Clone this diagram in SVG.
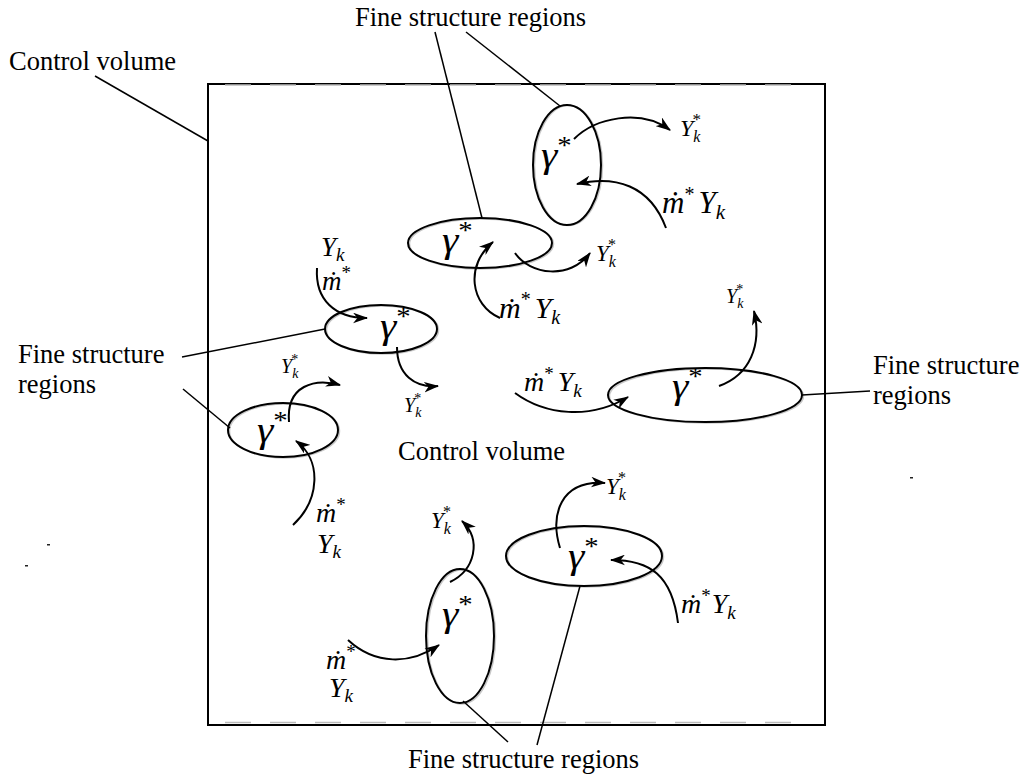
<svg xmlns="http://www.w3.org/2000/svg" width="1024" height="775" viewBox="0 0 1024 775">
  <defs>
    <marker id="ah" viewBox="0 0 14 10" refX="13" refY="5" markerWidth="15" markerHeight="11" markerUnits="userSpaceOnUse" orient="auto">
      <path d="M0,0 L14,5 L0,10 L4,5 z" fill="#000"/>
    </marker>
    <style>
      .lbl { font-family: "Liberation Serif", "Times New Roman", serif; font-size: 26.5px; fill: #000; }
      .m { font-family: "Liberation Serif", "DejaVu Serif", serif; font-style: italic; fill: #000; }
      .g { font-size: 36px; }
      .st { font-style: normal; }
      .box { fill: none; stroke: #000; stroke-width: 2; }
      .dash { fill: none; stroke: #bbb; stroke-width: 1.5; stroke-dasharray: 26 19; }
      .reg { fill: none; stroke: #000; stroke-width: 2; }
      .halo { fill: none; stroke: #c8c8c8; stroke-width: 1.5; }
      .lead { fill: none; stroke: #000; stroke-width: 1.5; }
      .flow { fill: none; stroke: #000; stroke-width: 2; marker-end: url(#ah); }
    </style>
  </defs>
  <rect width="1024" height="775" fill="#fff"/>

  <!-- control volume -->
  <g id="control-volume">
    <rect class="box" x="208" y="84" width="617" height="641"/>
    <line class="dash" x1="225" y1="85" x2="808" y2="85"/>
    <line class="dash" x1="225" y1="722.5" x2="808" y2="722.5"/>
    <text class="lbl" x="398" y="460">Control volume</text>
  </g>

  <!-- outer labels -->
  <g id="label-control-volume">
    <text class="lbl" x="9" y="70">Control volume</text>
  </g>
  <g id="label-fine-top">
    <text class="lbl" x="355" y="26">Fine structure regions</text>
  </g>
  <g id="label-fine-left">
    <text class="lbl" x="18" y="363">Fine structure</text>
    <text class="lbl" x="18" y="393">regions</text>
  </g>
  <g id="label-fine-right">
    <text class="lbl" x="873" y="374">Fine structure</text>
    <text class="lbl" x="873" y="404">regions</text>
  </g>
  <g id="label-fine-bottom">
    <text class="lbl" x="408" y="768">Fine structure regions</text>
  </g>

  <!-- fine structure regions (gamma labels slightly widened) -->
  <g id="region-1">
    <ellipse class="halo" cx="568.5" cy="165.5" rx="34" ry="60"/>
    <ellipse class="reg" cx="567" cy="165" rx="34" ry="60"/>
    <text class="m g" transform="translate(541,167) scale(1.15,1)">γ<tspan class="st" font-size="25" dy="-13">*</tspan></text>
    <text class="m" font-size="24" x="680" y="136">Y<tspan font-size="16" dy="6">k</tspan><tspan class="st" font-size="17" dx="-8" dy="-17">*</tspan></text>
    <text class="m" font-size="31" x="662" y="213">ṁ<tspan class="st" font-size="20" dy="-12">*</tspan><tspan dx="4" dy="12">Y</tspan><tspan font-size="21" dy="6">k</tspan></text>
  </g>
  <g id="region-2">
    <ellipse class="halo" cx="481.5" cy="244" rx="72" ry="25"/>
    <ellipse class="reg" cx="480" cy="243" rx="72" ry="25"/>
    <text class="m g" transform="translate(442,252) scale(1.15,1)">γ<tspan class="st" font-size="25" dy="-13">*</tspan></text>
    <text class="m" font-size="23" x="596" y="261">Y<tspan font-size="16" dy="6">k</tspan><tspan class="st" font-size="16" dx="-8" dy="-17">*</tspan></text>
    <text class="m" font-size="30" x="499" y="318">ṁ<tspan class="st" font-size="20" dy="-12">*</tspan><tspan dx="4" dy="12">Y</tspan><tspan font-size="20" dy="6">k</tspan></text>
  </g>
  <g id="region-3">
    <ellipse class="halo" cx="382.5" cy="330" rx="56" ry="24"/>
    <ellipse class="reg" cx="381" cy="329" rx="56" ry="24"/>
    <text class="m g" transform="translate(380,338) scale(1.15,1)">γ<tspan class="st" font-size="25" dy="-13">*</tspan></text>
    <text class="m" font-size="27" x="321" y="256">Y<tspan font-size="19" dy="5">k</tspan></text>
    <text class="m" font-size="27" x="322" y="290">ṁ<tspan class="st" font-size="19" dy="-11">*</tspan></text>
    <text class="m" font-size="20" x="404" y="412">Y<tspan font-size="14" dy="5">k</tspan><tspan class="st" font-size="14" dx="-7" dy="-14">*</tspan></text>
  </g>
  <g id="region-4">
    <ellipse class="halo" cx="284.5" cy="431" rx="55" ry="27"/>
    <ellipse class="reg" cx="283" cy="430" rx="55" ry="27"/>
    <text class="m g" transform="translate(257,442) scale(1.15,1)">γ<tspan class="st" font-size="25" dy="-13">*</tspan></text>
    <text class="m" font-size="20" x="281" y="373">Y<tspan font-size="14" dy="5">k</tspan><tspan class="st" font-size="14" dx="-7" dy="-14">*</tspan></text>
    <text class="m" font-size="28" x="316" y="522">ṁ<tspan class="st" font-size="19" dy="-11">*</tspan></text>
    <text class="m" font-size="28" x="317" y="553">Y<tspan font-size="19" dy="5">k</tspan></text>
  </g>
  <g id="region-5">
    <ellipse class="halo" cx="706.5" cy="396" rx="97" ry="27"/>
    <ellipse class="reg" cx="705" cy="395" rx="97" ry="27"/>
    <text class="m g" transform="translate(672,398) scale(1.15,1)">γ<tspan class="st" font-size="25" dy="-13">*</tspan></text>
    <text class="m" font-size="20" x="726" y="303">Y<tspan font-size="14" dy="5">k</tspan><tspan class="st" font-size="14" dx="-7" dy="-14">*</tspan></text>
    <text class="m" font-size="28" x="524" y="391">ṁ<tspan class="st" font-size="19" dy="-11">*</tspan><tspan dx="4" dy="11">Y</tspan><tspan font-size="19" dy="6">k</tspan></text>
  </g>
  <g id="region-6">
    <ellipse class="halo" cx="585.5" cy="557" rx="78" ry="30"/>
    <ellipse class="reg" cx="584" cy="556" rx="78" ry="30"/>
    <text class="m g" transform="translate(568,568) scale(1.15,1)">γ<tspan class="st" font-size="25" dy="-13">*</tspan></text>
    <text class="m" font-size="23" x="606" y="494">Y<tspan font-size="16" dy="6">k</tspan><tspan class="st" font-size="16" dx="-8" dy="-17">*</tspan></text>
    <text class="m" font-size="28" x="681" y="613">ṁ<tspan class="st" font-size="19" dy="-11">*</tspan><tspan dx="1" dy="11">Y</tspan><tspan font-size="19" dy="6">k</tspan></text>
  </g>
  <g id="region-7">
    <ellipse class="halo" cx="461.5" cy="637" rx="34" ry="67"/>
    <ellipse class="reg" cx="460" cy="636" rx="34" ry="67"/>
    <text class="m g" transform="translate(442,626) scale(1.15,1)">γ<tspan class="st" font-size="25" dy="-13">*</tspan></text>
    <text class="m" font-size="23" x="431" y="528">Y<tspan font-size="16" dy="6">k</tspan><tspan class="st" font-size="16" dx="-8" dy="-17">*</tspan></text>
    <text class="m" font-size="28" x="326" y="669">ṁ<tspan class="st" font-size="19" dy="-11">*</tspan></text>
    <text class="m" font-size="28" x="329" y="697">Y<tspan font-size="19" dy="5">k</tspan></text>
  </g>

  <!-- connectors: leader lines and species flows -->
  <g id="connectors">
    <line class="lead" x1="95" y1="76" x2="208" y2="141"/>
    <line class="lead" x1="435" y1="32" x2="482" y2="218"/>
    <line class="lead" x1="466" y1="32" x2="560" y2="106"/>
    <line class="lead" x1="182" y1="357" x2="325" y2="329"/>
    <line class="lead" x1="183" y1="389" x2="230" y2="428"/>
    <line class="lead" x1="802" y1="395" x2="870" y2="391"/>
    <line class="lead" x1="463" y1="701" x2="508" y2="742"/>
    <line class="lead" x1="580" y1="586" x2="537" y2="745"/>

    <path class="flow" d="M574,139 C595,118 640,108 670,130"/>
    <path class="flow" d="M666,228 C650,185 615,175 577,184"/>
    <path class="flow" d="M500,318 C470,305 465,265 493,242"/>
    <path class="flow" d="M515,253 C530,275 570,280 590,253"/>
    <path class="flow" d="M317,268 C315,300 335,318 367,318"/>
    <path class="flow" d="M397,347 C397,375 415,388 438,386"/>
    <path class="flow" d="M289,422 C286,385 315,378 340,385"/>
    <path class="flow" d="M293,525 C320,500 322,460 296,441"/>
    <path class="flow" d="M515,393 C545,415 590,420 628,397"/>
    <path class="flow" d="M719,386 C750,375 762,345 754,311"/>
    <path class="flow" d="M560,548 C550,515 560,480 605,483"/>
    <path class="flow" d="M678,623 C672,575 650,560 611,560"/>
    <path class="flow" d="M450,582 C475,570 482,540 462,521"/>
    <path class="flow" d="M348,640 C375,665 410,665 439,645"/>
  </g>

  <!-- stray specks -->
  <g id="specks" fill="#222">
    <rect x="47" y="544" width="3" height="1.5"/>
    <rect x="25" y="565" width="3" height="1.5"/>
    <rect x="910" y="477" width="3" height="1.5"/>
  </g>
</svg>
